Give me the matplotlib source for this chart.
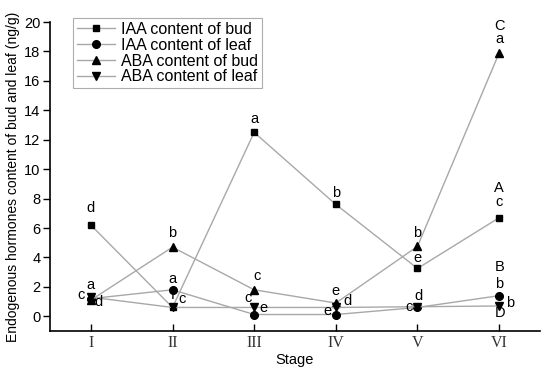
import matplotlib
matplotlib.use('Agg')
import matplotlib.pyplot as plt

# Datos
stages = ['I', 'II', 'III', 'IV', 'V', 'VI']
iaa_bud = [6.2, 0.6, 12.5, 7.6, 3.25, 6.7]
iaa_leaf = [1.2, 1.8, 0.12, 0.12, 0.6, 1.4]
aba_bud = [1.1, 4.7, 1.8, 0.9, 4.75, 17.9]
aba_leaf = [1.3, 0.6, 0.6, 0.6, 0.65, 0.7]

# Letras de significancia
iaa_bud_sig = ['d', 'f', 'a', 'b', 'e', 'c']
iaa_leaf_sig = ['a', 'a', 'c', 'e', 'c', 'b']
aba_bud_sig = ['c', 'b', 'c', 'e', 'b', 'a']
aba_leaf_sig = ['d', 'c', 'e', 'd', 'd', 'b']
# Letras mayúsculas en el estadio VI
caps = ['A', 'B', 'C', 'D']

# Desplazamientos (px) de cada letra respecto a su punto
iaa_bud_off = [(0, 17), (0, 12), (0, 13), (0, 11), (0, 10), (0, 16)]
iaa_leaf_off = [(0, 14), (0, 11), (-6, 17), (-8, 4), (-8, 0), (0, 12)]
aba_bud_off = [(-10, 5), (0, 14), (3, 14), (0, 12), (0, 13), (0, 14)]
aba_leaf_off = [(8, -5), (10, 8), (9, -1), (12, 6), (1, 11), (11, 3)]
caps_off = [(0, 30), (0, 29), (0, 27), (1, -7)]

plt.rcParams['font.family'] = ['Liberation Sans', 'DejaVu Sans']

fig = plt.figure(figsize=(5.5, 3.71), dpi=100)
ax = fig.add_axes([50 / 550, 40 / 371, 490 / 550, 309 / 371])

x = list(range(1, len(stages) + 1))
series = [
    (iaa_bud, 's', 5, 'IAA content of bud', iaa_bud_sig, iaa_bud_off),
    (iaa_leaf, 'o', 5.5, 'IAA content of leaf', iaa_leaf_sig, iaa_leaf_off),
    (aba_bud, '^', 6, 'ABA content of bud', aba_bud_sig, aba_bud_off),
    (aba_leaf, 'v', 6, 'ABA content of leaf', aba_leaf_sig, aba_leaf_off),
]

for (vals, mk, ms, lab, sig, off), cap, coff in zip(series, caps, caps_off):
    ax.plot(x, vals, color='#a8a8a8', lw=1, marker=mk, ms=ms,
            mfc='black', mec='black', label=lab)
    for xi, v, s, o in zip(x, vals, sig, off):
        ax.annotate(s, (xi, v), xytext=o, textcoords='offset pixels',
                    ha='center', va='center', fontsize=10.5)
    ax.annotate(cap, (x[-1], vals[-1]), xytext=coff, textcoords='offset pixels',
                ha='center', va='center', fontsize=10.5)

ax.set_xlim(0.5, 6.5)
ax.set_ylim(-1, 20)
ax.set_yticks(range(0, 21, 2))
ax.set_xticks(x)
ax.set_xticklabels(stages, fontfamily='Liberation Serif', fontsize=11.5, color='#333333')
ax.tick_params(axis='y', direction='out', length=5, width=1, labelsize=10.5, pad=2)
ax.tick_params(axis='x', direction='in', length=5, width=1, pad=3)
for side in ['top', 'right']:
    ax.spines[side].set_visible(False)
for side in ['left', 'bottom']:
    ax.spines[side].set_linewidth(1.2)

ax.set_xlabel('Stage', fontsize=10.5, labelpad=1)
ax.set_ylabel('Endogenous hormones content of bud and leaf (ng/g)', fontsize=10, labelpad=3)

leg = ax.legend(loc='upper left', bbox_to_anchor=(73 / 550, 1 - 18 / 371),
                bbox_transform=fig.transFigure, fontsize=11.5, frameon=True,
                fancybox=False, edgecolor='#999999', handlelength=2.4,
                labelspacing=0.05, borderpad=0.25, handletextpad=0.35,
                borderaxespad=0)
leg.get_frame().set_linewidth(0.8)

fig.savefig('out.png', dpi=100)
